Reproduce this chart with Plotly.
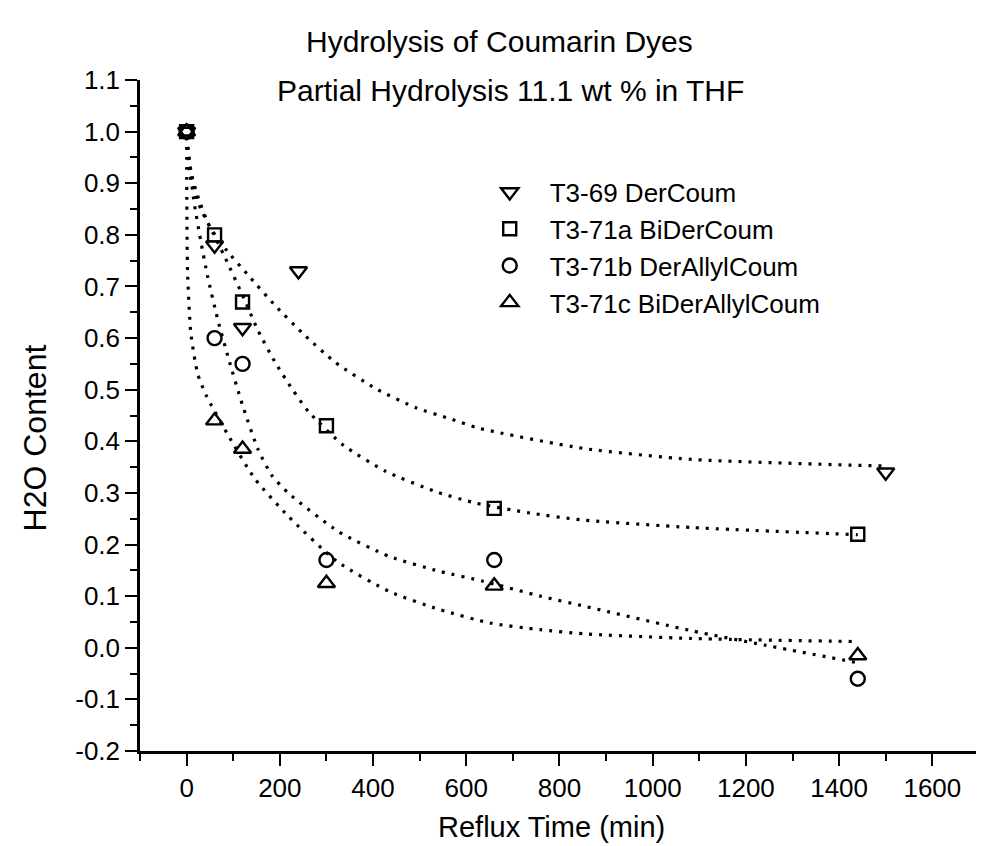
import plotly.graph_objects as go

# ---------------- data ----------------
series_names = ["T3-69 DerCoum", "T3-71a BiDerCoum", "T3-71b DerAllylCoum", "T3-71c BiDerAllylCoum"]

time_t369 = [0, 60, 120, 240, 1500]
h2o_t369 = [1.0, 0.78, 0.62, 0.73, 0.34]

time_t371a = [0, 60, 120, 300, 660, 1440]
h2o_t371a = [1.0, 0.80, 0.67, 0.43, 0.27, 0.22]

time_t371b = [0, 60, 120, 300, 660, 1440]
h2o_t371b = [1.0, 0.60, 0.55, 0.17, 0.17, -0.06]

time_t371c = [0, 60, 120, 300, 660, 1440]
h2o_t371c = [1.0, 0.44, 0.385, 0.125, 0.12, -0.015]

# fitted (dotted) curves
fit_t369_x = [0, 10, 24, 49, 84, 132, 190, 254, 319, 406, 492, 564, 629, 853, 1083, 1500]
fit_t369_y = [0.99, 0.92, 0.875, 0.817, 0.772, 0.722, 0.663, 0.605, 0.553, 0.502, 0.465, 0.444, 0.425, 0.386, 0.365, 0.352]

fit_t371a_x = [0, 9, 31, 56, 81, 124, 153, 190, 226, 262, 337, 427, 536, 622, 737, 845, 1083, 1440]
fit_t371a_y = [0.99, 0.907, 0.849, 0.805, 0.759, 0.675, 0.615, 0.553, 0.502, 0.457, 0.392, 0.342, 0.302, 0.280, 0.261, 0.248, 0.233, 0.219]

fit_t371b_x = [0, 15, 30, 45, 67, 90, 120, 153, 182, 218, 326, 435, 543, 636, 759, 856, 1083, 1241, 1440]
fit_t371b_y = [0.99, 0.87, 0.79, 0.72, 0.635, 0.56, 0.47, 0.385, 0.335, 0.300, 0.225, 0.177, 0.148, 0.129, 0.100, 0.080, 0.033, 0.005, -0.029]

fit_t371c_x = [0, 0.5, 2, 9, 24, 42, 89, 146, 218, 323, 435, 543, 651, 759, 853, 1083, 1440]
fit_t371c_y = [0.99, 0.86, 0.73, 0.61, 0.53, 0.489, 0.412, 0.328, 0.255, 0.167, 0.109, 0.074, 0.048, 0.035, 0.027, 0.018, 0.012]

x_tickvals = [0, 200, 400, 600, 800, 1000, 1200, 1400, 1600]
x_ticktext = ["0", "200", "400", "600", "800", "1000", "1200", "1400", "1600"]
y_tickvals = [-0.2, -0.1, 0.0, 0.1, 0.2, 0.3, 0.4, 0.5, 0.6, 0.7, 0.8, 0.9, 1.0, 1.1]
y_ticktext = ["-0.2", "-0.1", "0.0", "0.1", "0.2", "0.3", "0.4", "0.5", "0.6", "0.7", "0.8", "0.9", "1.0", "1.1"]

title_line1 = "Hydrolysis of Coumarin Dyes"
title_line2 = "Partial Hydrolysis 11.1 wt % in THF"
x_title = "Reflux Time (min)"
y_title = "H2O Content"

# ---------------- figure ----------------
FONT = "Liberation Sans, Arial, Helvetica, sans-serif"
fig = go.Figure()

dot = dict(color="black", width=3.2, dash="3px,7px", shape="spline", smoothing=0.6)
for fx, fy in [(fit_t369_x, fit_t369_y), (fit_t371a_x, fit_t371a_y),
               (fit_t371b_x, fit_t371b_y), (fit_t371c_x, fit_t371c_y)]:
    fig.add_trace(go.Scatter(x=fx, y=fy, mode="lines", line=dot,
                             showlegend=False, hoverinfo="skip"))

marker_specs = [
    (time_t369, h2o_t369, "triangle-down-open", 15),
    (time_t371a, h2o_t371a, "square-open", 13),
    (time_t371b, h2o_t371b, "circle-open", 14),
    (time_t371c, h2o_t371c, "triangle-up-open", 15),
]
for name, (xs, ys, sym, sz) in zip(series_names, marker_specs):
    fig.add_trace(go.Scatter(
        x=xs, y=ys, mode="markers", name=name,
        marker=dict(symbol=sym, size=sz, color="black",
                    line=dict(color="black", width=2.4)),
    ))

axis_common = dict(
    showgrid=False, zeroline=False, showline=True, linecolor="black",
    linewidth=2.5, ticks="outside", ticklen=12, tickwidth=2, tickcolor="black",
    tickfont=dict(family=FONT, size=26, color="black"), mirror=False,
)
fig.update_xaxes(range=[-100, 1728], tickmode="array", tickvals=x_tickvals,
                 ticktext=x_ticktext,
                 minor=dict(ticks="outside", dtick=100, tick0=0, ticklen=7,
                            tickwidth=2, tickcolor="black"),
                 **axis_common)
fig.update_yaxes(range=[-0.2, 1.1], tickmode="array", tickvals=y_tickvals,
                 ticktext=y_ticktext,
                 minor=dict(ticks="outside", dtick=0.05, tick0=0, ticklen=7,
                            tickwidth=2, tickcolor="black"),
                 **axis_common)

fig.update_layout(
    width=984, height=846, autosize=False,
    margin=dict(l=132, r=0, t=72, b=103),
    paper_bgcolor="white", plot_bgcolor="white",
    font=dict(family=FONT, color="black"),
    legend=dict(x=0.387, y=0.868, xanchor="left", yanchor="top",
                bgcolor="rgba(0,0,0,0)", borderwidth=0, itemwidth=70,
                font=dict(family=FONT, size=26, color="black"),
                tracegroupgap=0),
    annotations=[
        dict(text=title_line1, x=0.4225, y=1.058, xref="paper", yref="paper",
             xanchor="center", yanchor="middle", showarrow=False,
             font=dict(family=FONT, size=30, color="black")),
        dict(text=title_line2, x=0.4354, y=0.985, xref="paper", yref="paper",
             xanchor="center", yanchor="middle", showarrow=False,
             font=dict(family=FONT, size=30, color="black")),
        dict(text=x_title, x=0.483, y=-0.114, xref="paper", yref="paper",
             xanchor="center", yanchor="middle", showarrow=False,
             font=dict(family=FONT, size=29, color="black")),
        dict(text=y_title, x=-0.1227, y=0.4665, xref="paper", yref="paper",
             xanchor="center", yanchor="middle", showarrow=False, textangle=-90,
             font=dict(family=FONT, size=32, color="black")),
    ],
)

fig.write_html("out.html")
